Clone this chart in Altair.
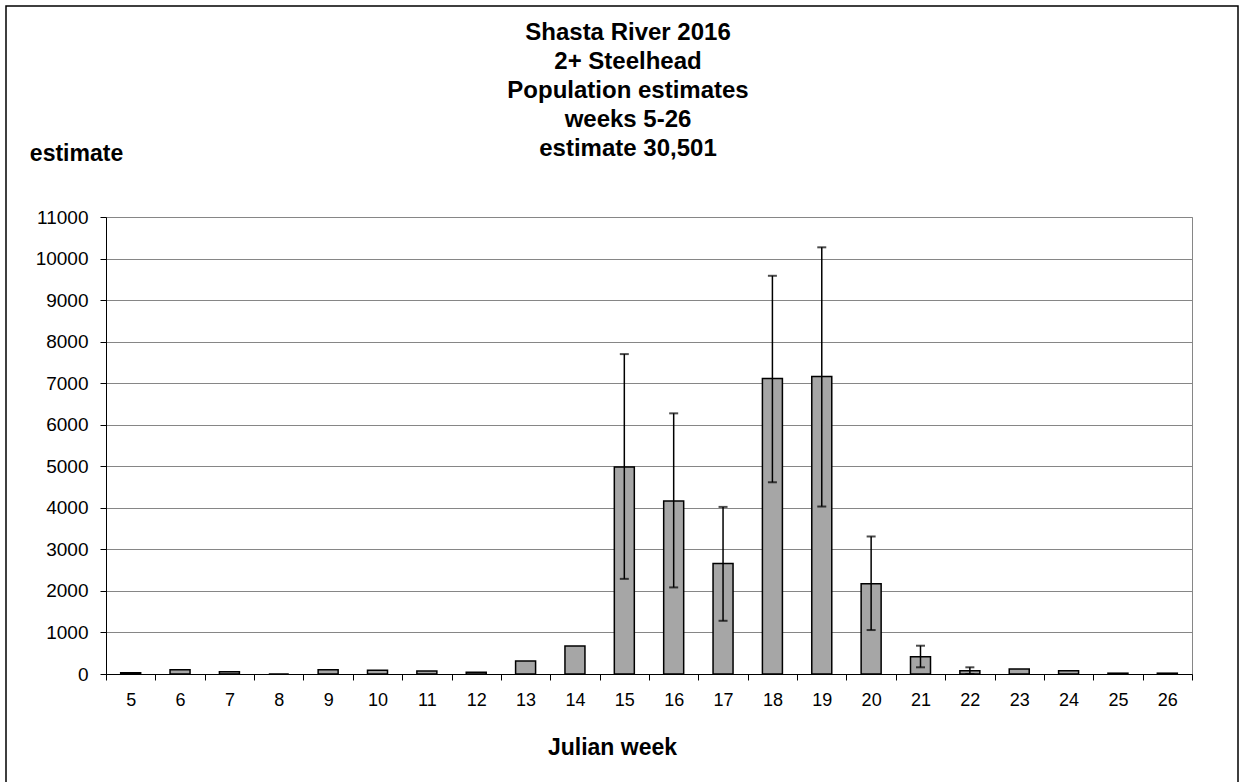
import altair as alt
import pandas as pd

# Weekly population estimates, Julian weeks 5-26
weeks = list(range(5, 27))
estimates = [30, 104, 55, 0, 104, 88, 72, 40, 312, 673,
             4985, 4166, 2661, 7115, 7160, 2171, 416, 80, 120, 80, 20, 20]

# Confidence intervals where they were computed
ci_weeks = [15, 16, 17, 18, 19, 20, 21, 22]
ci_low = [2290, 2084, 1281, 4615, 4031, 1058, 161, 0]
ci_high = [7700, 6274, 4022, 9585, 10270, 3310, 681, 161]

title_lines = [
    "Shasta River 2016",
    "2+ Steelhead",
    "Population estimates",
    "weeks 5-26",
    "estimate 30,501",
]
y_ticks = list(range(0, 11001, 1000))

FONT = "Liberation Sans"
GRID = "#868686"

df = pd.DataFrame({"week": weeks, "estimate": estimates})
ci = pd.DataFrame({"week": ci_weeks, "low": ci_low, "high": ci_high})

x_enc = alt.X(
    "week:O",
    scale=alt.Scale(domain=weeks, paddingInner=0, paddingOuter=0),
    axis=alt.Axis(
        labelAngle=0,
        tickBand="extent",
        tickSize=6,
        tickColor="black",
        domainColor="black",
        labelFontSize=18,
        labelColor="black",
        labelPadding=11,
        grid=False,
        title="Julian week",
        titleFontSize=23,
        titleFontWeight="bold",
        titleColor="black",
        titleX=506,
        titleY=73,
        titleAlign="center",
        titleBaseline="middle",
    ),
)

y_scale = alt.Scale(domain=[0, 11000], nice=False)

bars = alt.Chart(df).mark_bar(
    size=20, color="#a6a6a6", stroke="black", strokeWidth=1.5
).encode(
    x=x_enc,
    y=alt.Y(
        "estimate:Q",
        scale=y_scale,
        axis=alt.Axis(
            values=y_ticks,
            format="d",
            grid=True,
            gridColor=GRID,
            gridWidth=1,
            tickSize=6,
            tickColor="black",
            domainColor="black",
            labelFontSize=19,
            labelColor="black",
            labelPadding=12,
            title="estimate",
            titleAngle=0,
            titleFontSize=23,
            titleFontWeight="bold",
            titleColor="black",
            titleX=-30,
            titleY=-64,
            titleAlign="center",
            titleBaseline="middle",
        ),
    ),
)

err_rule = alt.Chart(ci).mark_rule(color="black", strokeWidth=1.5).encode(
    x="week:O",
    y=alt.Y("low:Q", scale=y_scale),
    y2="high:Q",
)
cap_high = alt.Chart(ci).mark_tick(color="black", size=9, thickness=2).encode(
    x="week:O", y=alt.Y("high:Q", scale=y_scale)
)
cap_low = alt.Chart(ci).mark_tick(color="black", size=9, thickness=2).encode(
    x="week:O", y=alt.Y("low:Q", scale=y_scale)
)

title = alt.Chart(alt.Data(values=[{}])).mark_text(
    text=title_lines,
    lineHeight=29,
    fontSize=24,
    fontWeight="bold",
    font=FONT,
    color="black",
    align="center",
    baseline="alphabetic",
).encode(x=alt.value(522), y=alt.value(-177))

frame = alt.Chart(alt.Data(values=[{}])).mark_rect(
    fillOpacity=0, stroke="black", strokeWidth=1.5
).encode(
    x=alt.value(-100), x2=alt.value(1132), y=alt.value(-211), y2=alt.value(600)
)

chart = (
    alt.layer(frame, bars, err_rule, cap_high, cap_low, title)
    .properties(
        width=1086,
        height=457,
        autosize=alt.AutoSizeParams(type="none"),
        padding={"left": 106, "top": 217, "right": 51, "bottom": 108},
        background="white",
    )
    .configure(font=FONT)
    .configure_view(stroke=GRID, strokeWidth=1)
)

chart.save("out.html", embed_options={"renderer": "svg", "actions": False})
